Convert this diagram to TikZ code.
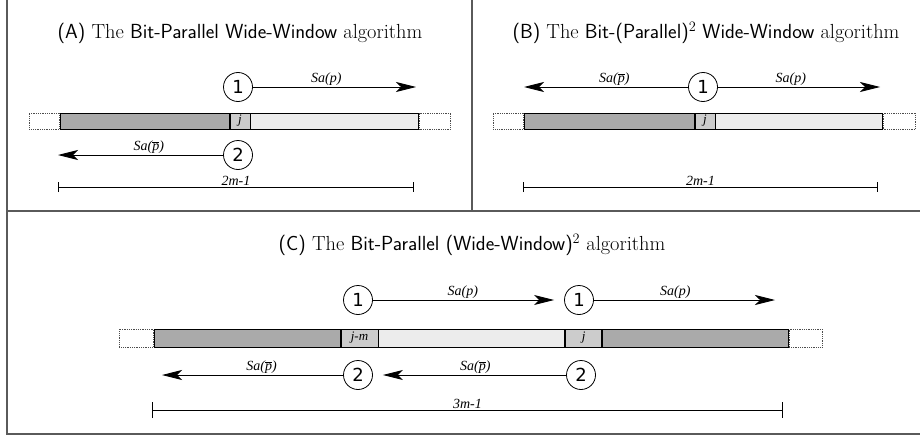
\documentclass[tikz,border=0pt]{standalone}
\usepackage{fontspec}
\usepackage{tikz}
\usetikzlibrary{arrows.meta,positioning}
\newfontfamily\labfont{Liberation Serif}
\newfontfamily\numfont{DejaVu Sans}
\definecolor{WWdark}{RGB}{170,170,170}
\definecolor{WWmid}{RGB}{204,204,204}
\definecolor{WWlight}{RGB}{236,236,236}
\definecolor{WWframe}{RGB}{90,90,90}
\newcommand{\pbar}{$\overline{\hbox{p}}$}
\tikzset{
  seg/.style={draw=black,line width=0.8pt,inner sep=0pt,anchor=west,minimum height=16pt},
  darkseg/.style={seg,fill=WWdark},
  lightseg/.style={seg,fill=WWlight},
  poscell/.style={seg,fill=WWmid,font=\labfont\itshape\fontsize{13}{14}\selectfont},
  padseg/.style={seg,draw=black!70,densely dotted,fill=white},
  numnode/.style={circle,draw,line width=0.8pt,inner sep=0pt,minimum size=29pt,
                  fill=white,font=\numfont\fontsize{18}{18}\selectfont},
  scan/.style={-{Stealth[length=20pt,width=10pt,inset=5pt]},line width=0.9pt},
  lab/.style={font=\labfont\itshape\fontsize{14}{15}\selectfont,inner sep=1pt},
  dim/.style={{Bar[width=10pt]}-{Bar[width=10pt]},line width=1pt},
  heading/.style={font=\fontsize{20.4}{23}\selectfont},
  panelline/.style={draw=WWframe,line width=1.5pt}
}

\begin{document}
\begin{tikzpicture}[x=1pt,y=-1pt]
  \useasboundingbox (0,0) rectangle (920,436);
  % panel frames
  \draw[panelline] (7,0) -- (7,434) -- (920,434);
  \draw[panelline] (7,211) -- (920,211);
  \draw[panelline] (472,0) -- (472,211);

  % (A)
  \node[heading] (a-title) at (240,33) {\textsf{(A)} The \textsf{Bit-Parallel Wide-Window} algorithm};
  \node[padseg,minimum width=30pt] (a-padl) at (29,121) {};
  \node[darkseg,minimum width=169pt,right=0pt of a-padl] (a-left) {};
  \node[poscell,minimum width=20pt,right=0pt of a-left] (a-j) {j};
  \node[lightseg,minimum width=168pt,right=0pt of a-j] (a-right) {};
  \node[padseg,minimum width=31pt,right=0pt of a-right] (a-padr) {};
  \node[numnode] (a-one) at (238,87) {1};
  \node[numnode] (a-two) at (238,155) {2};
  \coordinate (a-onetip) at (416,87);
  \coordinate (a-twotip) at (58,155);
  \draw[scan] (a-one) -- node[lab,above,pos=0.45] {Sa(p)} (a-onetip);
  \draw[scan] (a-two) -- node[lab,above,pos=0.45] {Sa(\pbar)} (a-twotip);
  \coordinate (a-dl) at (58,187);
  \coordinate (a-dr) at (414,187);
  \draw[dim] (a-dl) -- node[lab,above] {2m-1} (a-dr);

  % (B)
  \node[heading] (b-title) at (706,33) {\textsf{(B)} The \textsf{Bit-(Parallel)}$^2$ \textsf{Wide-Window} algorithm};
  \node[padseg,minimum width=30pt] (b-padl) at (493,121) {};
  \node[darkseg,minimum width=170pt,right=0pt of b-padl] (b-left) {};
  \node[poscell,minimum width=20pt,right=0pt of b-left] (b-j) {j};
  \node[lightseg,minimum width=167pt,right=0pt of b-j] (b-right) {};
  \node[padseg,minimum width=32pt,right=0pt of b-right] (b-padr) {};
  \node[numnode] (b-one) at (703,87) {1};
  \coordinate (b-lefttip) at (524,87);
  \coordinate (b-righttip) at (880,87);
  \draw[scan] (b-one) -- node[lab,above,pos=0.45] {Sa(\pbar)} (b-lefttip);
  \draw[scan] (b-one) -- node[lab,above,pos=0.45] {Sa(p)} (b-righttip);
  \coordinate (b-dl) at (523,187);
  \coordinate (b-dr) at (878,187);
  \draw[dim] (b-dl) -- node[lab,above] {2m-1} (b-dr);

  % (C)
  \begin{scope}[seg/.append style={minimum height=18pt}]
  \node[heading] (c-title) at (472,245) {\textsf{(C)} The \textsf{Bit-Parallel (Wide-Window)}$^2$ algorithm};
  \node[padseg,minimum width=34pt] (c-padl) at (119,338) {};
  \node[darkseg,minimum width=186pt,right=0pt of c-padl] (c-left) {};
  \node[poscell,minimum width=37pt,right=0pt of c-left] (c-jm) {j-m};
  \node[lightseg,minimum width=186pt,right=0pt of c-jm] (c-mid) {};
  \node[poscell,minimum width=36pt,right=0pt of c-mid] (c-j) {j};
  \node[darkseg,minimum width=186pt,right=0pt of c-j] (c-right) {};
  \node[padseg,minimum width=33pt,right=0pt of c-right] (c-padr) {};
  \end{scope}
  \node[numnode] (c-onea) at (358,300) {1};
  \node[numnode] (c-oneb) at (579,300) {1};
  \node[numnode] (c-twoa) at (358,375) {2};
  \node[numnode] (c-twob) at (581,375) {2};
  \coordinate (c-onetip) at (775,300);
  \coordinate (c-twotip) at (162,375);
  \draw[scan,shorten >=10pt] (c-onea) -- node[lab,above,pos=0.47] {Sa(p)} (c-oneb);
  \draw[scan] (c-oneb) -- node[lab,above,pos=0.45] {Sa(p)} (c-onetip);
  \draw[scan,shorten >=10pt] (c-twob) -- node[lab,above,pos=0.47] {Sa(\pbar)} (c-twoa);
  \draw[scan] (c-twoa) -- node[lab,above,pos=0.45] {Sa(\pbar)} (c-twotip);
  \coordinate (c-dl) at (152,410);
  \coordinate (c-dr) at (783,410);
  \draw[dim,{Bar[width=16pt]}-{Bar[width=16pt]}] (c-dl) -- node[lab,above] {3m-1} (c-dr);
\end{tikzpicture}
\end{document}
